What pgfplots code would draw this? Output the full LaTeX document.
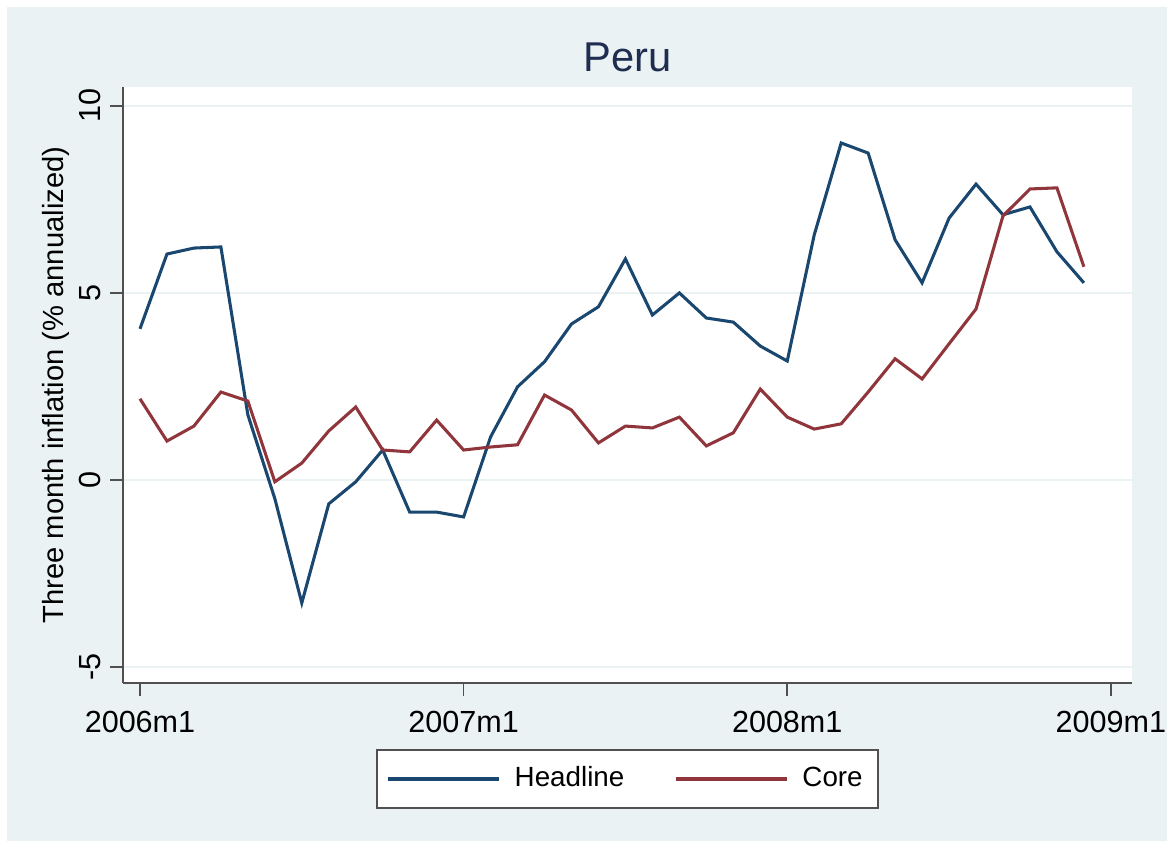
\documentclass[border=0pt]{standalone}
\usepackage{fontspec}
\setmainfont{Liberation Sans}
\usepackage{pgfplots}
\pgfplotsset{compat=1.18}

\definecolor{stnavy}{RGB}{26,71,111}
\definecolor{stmaroon}{RGB}{144,53,59}
\definecolor{stbg}{RGB}{234,242,243}
\definecolor{sttitle}{RGB}{30,45,80}
\definecolor{stgray}{RGB}{80,80,80}

% month index: 0 = 2006m1
\pgfplotstableread{
m headline core
0  4.04  2.17
1  6.04  1.04
2  6.20  1.44
3  6.23  2.35
4  1.74  2.11
5 -0.50 -0.05
6 -3.29  0.45
7 -0.64  1.31
8 -0.05  1.95
9  0.80  0.80
10 -0.86 0.75
11 -0.86 1.60
12 -0.99 0.80
13  1.15 0.88
14  2.49 0.94
15  3.16 2.27
16  4.17 1.87
17  4.63 0.99
18  5.91 1.44
19  4.41 1.39
20  5.00 1.68
21  4.33 0.91
22  4.22 1.26
23  3.58 2.43
24  3.18 1.68
25  6.55 1.36
26  9.01 1.50
27  8.74 2.35
28  6.42 3.24
29  5.27 2.70
30  7.00 3.64
31  7.91 4.57
32  7.09 7.06
33  7.30 7.78
34  6.10 7.81
35  5.27 5.70
}\peru

\begin{document}
\begin{tikzpicture}
\fill[white] (-44.28pt,-60pt) rectangle (380pt,245.88pt);
\fill[stbg] (-41.8pt,-60pt) rectangle (380pt,243.4pt);
\begin{axis}[
    at={(0,0)}, anchor=south west,
    scale only axis, width=363.2pt, height=214.6pt,
    xmin=-0.63, xmax=36.78, ymin=-5.43, ymax=10.51,
    axis background/.style={fill=white},
    axis x line*=bottom, axis y line*=left,
    x axis line style={-, stgray, line width=0.7pt},
    y axis line style={-, stgray, line width=0.7pt},
    tick align=outside, major tick length=4.5pt,
    tick style={stgray, line width=0.6pt},
    xtick={0,12,24,36},
    xticklabels={2006m1,2007m1,2008m1,2009m1},
    ytick={-5,0,5,10},
    /pgf/number format/assume math mode=true,
    xticklabel style={font=\fontsize{11}{13}\selectfont, yshift=-2pt},
    yticklabel style={font=\fontsize{11}{13}\selectfont, rotate=90, anchor=south},
    ymajorgrids, grid style={stbg, line width=0.8pt},
    ylabel={Three month inflation (\% annualized)},
    ylabel style={font=\fontsize{10.5}{12}\selectfont, yshift=-3.6pt},
    title={Peru},
    title style={font=\fontsize{15}{17}\selectfont, color=sttitle,
                 at={(0.5,1)}, anchor=center, yshift=4.5pt},
    legend columns=2,
    legend image code/.code={\draw[#1] (0pt,0pt) -- (40pt,0pt);},
    legend style={at={(0.5,-0.161)}, anchor=center,
                  draw=stgray, line width=0.6pt, fill=white,
                  font=\fontsize{10}{12}\selectfont,
                  inner xsep=3.6pt, inner ysep=4pt,
                  /tikz/every odd column/.append style={column sep=3pt},
                  /tikz/every even column/.append style={column sep=16pt}},
]
\addplot[stnavy, line width=1.1pt] table[x=m, y=headline] {\peru};
\addlegendentry{Headline}
\addplot[stmaroon, line width=1.1pt] table[x=m, y=core] {\peru};
\addlegendentry{Core}
\end{axis}
\pgfresetboundingbox
\useasboundingbox (-44.28pt,-56.52pt) rectangle (375.84pt,245.88pt);
\end{tikzpicture}
\end{document}
